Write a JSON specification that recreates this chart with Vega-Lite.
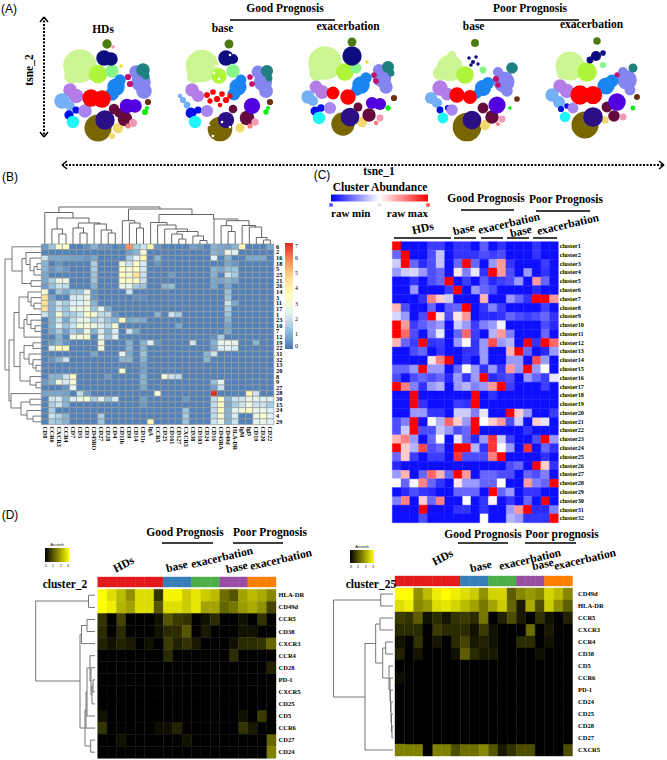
{"$schema":"https://vega.github.io/schema/vega-lite/v6.json","width":667,"height":760,"padding":0,"autosize":{"type":"none"},"background":"white","view":{"stroke":null},
"config":{"text":{"font":"Liberation Serif","fontWeight":"bold"},"axis":{"labelFont":"Liberation Serif","labelFontWeight":"bold","domain":false,"ticks":false,"grid":false,"title":null},"legend":{"labelFont":"Liberation Serif","titleFont":"Liberation Serif"}},
"datasets":{
"tsne":[
{"k":"lg","x":80,"y":66,"n":855},{"k":"lg","x":72,"y":76,"n":154},{"k":"lm","x":98,"y":74,"n":227},{"k":"mt","x":112,"y":71,"n":113},{"k":"nv","x":104,"y":58,"n":154},{"k":"nv","x":111,"y":59,"n":113},{"k":"pw","x":136,"y":72,"n":113},{"k":"pw","x":141,"y":82,"n":254},{"k":"pw","x":144,"y":91,"n":154},{"k":"tl","x":143,"y":70,"n":113},{"k":"tl","x":146,"y":76,"n":28},{"k":"cr","x":128,"y":77,"n":20},{"k":"cr","x":130,"y":84,"n":20},{"k":"az","x":120,"y":80,"n":78},{"k":"az","x":116,"y":87,"n":200},{"k":"az","x":112,"y":94,"n":113},{"k":"or","x":70,"y":90,"n":113},{"k":"or","x":76,"y":96,"n":133},{"k":"sk","x":62,"y":101,"n":154},{"k":"sk","x":70,"y":106,"n":50},{"k":"bl","x":69,"y":115,"n":50},{"k":"bl","x":76,"y":110,"n":28},{"k":"cy","x":73,"y":122,"n":95},{"k":"lv","x":85,"y":111,"n":113},{"k":"ol","x":98,"y":128,"n":530},{"k":"gd","x":118,"y":128,"n":64},{"k":"gd","x":112,"y":136,"n":20},{"k":"in","x":105,"y":120,"n":254},{"k":"mr","x":114,"y":109,"n":64},{"k":"mr","x":125,"y":119,"n":133},{"k":"mr","x":119,"y":113,"n":50},{"k":"vi","x":127,"y":106,"n":133},{"k":"vi","x":135,"y":106,"n":113},{"k":"rd","x":91,"y":98,"n":200},{"k":"rd","x":102,"y":99,"n":200},{"k":"pk","x":133,"y":123,"n":38},{"k":"sl","x":128,"y":126,"n":13},{"k":"br","x":148,"y":102,"n":20},{"k":"gr","x":145,"y":112,"n":20},{"k":"gr","x":147,"y":108,"n":8},{"k":"dg","x":107,"y":44,"n":50},{"k":"yl","x":121,"y":66,"n":6},{"k":"pk","x":113,"y":47,"n":6},
{"k":"lg","x":202,"y":66,"n":800},{"k":"lg","x":194,"y":76,"n":130},{"k":"lm","x":219,"y":76,"n":150},{"k":"mt","x":233,"y":71,"n":113},{"k":"nv","x":226,"y":58,"n":154},{"k":"nv","x":233,"y":59,"n":60},{"k":"pw","x":258,"y":72,"n":100},{"k":"pw","x":263,"y":82,"n":220},{"k":"pw","x":266,"y":91,"n":120},{"k":"tl","x":267,"y":71,"n":90},{"k":"tl","x":269,"y":78,"n":25},{"k":"cr","x":250,"y":77,"n":16},{"k":"cr","x":252,"y":84,"n":16},{"k":"az","x":241,"y":80,"n":70},{"k":"az","x":238,"y":87,"n":190},{"k":"az","x":234,"y":94,"n":100},{"k":"or","x":192,"y":90,"n":113},{"k":"or","x":198,"y":96,"n":90},{"k":"sk","x":183,"y":100,"n":20},{"k":"sk","x":187,"y":105,"n":25},{"k":"sk","x":180,"y":96,"n":10},{"k":"bl","x":191,"y":113,"n":70},{"k":"bl","x":198,"y":110,"n":28},{"k":"cy","x":195,"y":122,"n":95},{"k":"lv","x":207,"y":111,"n":90},{"k":"ol","x":220,"y":129,"n":430},{"k":"gd","x":240,"y":128,"n":50},{"k":"in","x":226,"y":120,"n":170},{"k":"mr","x":233,"y":109,"n":40},{"k":"mr","x":247,"y":118,"n":133},{"k":"vi","x":252,"y":106,"n":170},{"k":"rd","x":207,"y":95,"n":18},{"k":"rd","x":213,"y":92,"n":16},{"k":"rd","x":210,"y":101,"n":14},{"k":"rd","x":217,"y":99,"n":20},{"k":"rd","x":222,"y":94,"n":16},{"k":"rd","x":226,"y":100,"n":20},{"k":"rd","x":230,"y":96,"n":14},{"k":"rd","x":220,"y":105,"n":10},{"k":"pk","x":255,"y":122,"n":30},{"k":"sl","x":250,"y":126,"n":13},{"k":"br","x":270,"y":102,"n":20},{"k":"gr","x":266,"y":112,"n":14},{"k":"gr","x":268,"y":108,"n":8},{"k":"dg","x":229,"y":44,"n":45},{"k":"wh","x":216,"y":66,"n":3},{"k":"wh","x":219,"y":79,"n":3},{"k":"wh","x":214,"y":73,"n":3},{"k":"wh","x":230,"y":55,"n":3},{"k":"wh","x":213,"y":136,"n":3},{"k":"wh","x":222,"y":122,"n":3},{"k":"wh","x":230,"y":127,"n":3},{"k":"wh","x":209,"y":125,"n":3},
{"k":"lg","x":325,"y":63,"n":855},{"k":"lg","x":317,"y":73,"n":154},{"k":"lm","x":345,"y":72,"n":200},{"k":"mt","x":356,"y":68,"n":70},{"k":"nv","x":352,"y":56,"n":250},{"k":"pw","x":379,"y":70,"n":90},{"k":"pw","x":382,"y":78,"n":230},{"k":"pw","x":386,"y":87,"n":110},{"k":"tl","x":388,"y":67,"n":90},{"k":"tl","x":391,"y":73,"n":25},{"k":"cr","x":374,"y":75,"n":16},{"k":"cr","x":376,"y":81,"n":16},{"k":"az","x":366,"y":78,"n":78},{"k":"az","x":361,"y":85,"n":200},{"k":"az","x":357,"y":90,"n":80},{"k":"or","x":316,"y":87,"n":100},{"k":"or","x":322,"y":92,"n":120},{"k":"sk","x":308,"y":97,"n":110},{"k":"sk","x":313,"y":101,"n":60},{"k":"bl","x":315,"y":111,"n":45},{"k":"bl","x":321,"y":108,"n":30},{"k":"cy","x":319,"y":118,"n":95},{"k":"lv","x":330,"y":108,"n":90},{"k":"ol","x":343,"y":124,"n":380},{"k":"gd","x":362,"y":122,"n":64},{"k":"in","x":350,"y":117,"n":230},{"k":"mr","x":358,"y":107,"n":45},{"k":"mr","x":369,"y":115,"n":110},{"k":"vi","x":372,"y":103,"n":90},{"k":"vi","x":380,"y":104,"n":90},{"k":"rd","x":333,"y":93,"n":100},{"k":"rd","x":348,"y":97,"n":150},{"k":"pk","x":380,"y":118,"n":25},{"k":"sl","x":376,"y":123,"n":10},{"k":"br","x":394,"y":98,"n":20},{"k":"gr","x":388,"y":108,"n":14},{"k":"dg","x":352,"y":42,"n":45},{"k":"yl","x":367,"y":62,"n":6},
{"k":"lg","x":450,"y":68,"n":500},{"k":"lg","x":440,"y":73,"n":130},{"k":"lg","x":452,"y":55,"n":40},{"k":"lm","x":465,"y":75,"n":200},{"k":"mt","x":483,"y":70,"n":25},{"k":"nv","x":469,"y":58,"n":6},{"k":"nv","x":473,"y":62,"n":8},{"k":"nv","x":476,"y":57,"n":6},{"k":"nv","x":471,"y":65,"n":6},{"k":"nv","x":478,"y":64,"n":5},{"k":"pw","x":498,"y":72,"n":60},{"k":"pw","x":504,"y":82,"n":300},{"k":"pw","x":507,"y":91,"n":80},{"k":"tl","x":512,"y":68,"n":80},{"k":"cr","x":496,"y":79,"n":20},{"k":"cr","x":498,"y":85,"n":14},{"k":"az","x":488,"y":83,"n":90},{"k":"az","x":483,"y":88,"n":170},{"k":"az","x":477,"y":94,"n":50},{"k":"or","x":440,"y":88,"n":150},{"k":"or","x":447,"y":94,"n":100},{"k":"sk","x":431,"y":98,"n":90},{"k":"sk","x":437,"y":103,"n":60},{"k":"bl","x":440,"y":110,"n":25},{"k":"bl","x":448,"y":108,"n":20},{"k":"cy","x":443,"y":118,"n":70},{"k":"lv","x":452,"y":110,"n":80},{"k":"ol","x":467,"y":127,"n":600},{"k":"gd","x":485,"y":125,"n":64},{"k":"in","x":472,"y":120,"n":230},{"k":"mr","x":483,"y":108,"n":70},{"k":"mr","x":492,"y":117,"n":110},{"k":"vi","x":497,"y":105,"n":190},{"k":"rd","x":457,"y":95,"n":150},{"k":"rd","x":470,"y":97,"n":120},{"k":"pk","x":502,"y":119,"n":25},{"k":"sl","x":498,"y":124,"n":8},{"k":"br","x":517,"y":99,"n":16},{"k":"gr","x":510,"y":108,"n":6},{"k":"dg","x":475,"y":43,"n":35},
{"k":"lg","x":570,"y":66,"n":620},{"k":"lg","x":563,"y":73,"n":100},{"k":"lm","x":587,"y":72,"n":260},{"k":"mt","x":603,"y":65,"n":20},{"k":"nv","x":596,"y":56,"n":60},{"k":"nv","x":590,"y":60,"n":25},{"k":"nv","x":603,"y":53,"n":16},{"k":"pw","x":623,"y":72,"n":60},{"k":"pw","x":627,"y":80,"n":260},{"k":"pw","x":630,"y":90,"n":70},{"k":"tl","x":633,"y":68,"n":45},{"k":"cr","x":617,"y":75,"n":14},{"k":"az","x":612,"y":81,"n":100},{"k":"az","x":606,"y":86,"n":190},{"k":"or","x":560,"y":86,"n":110},{"k":"or","x":567,"y":91,"n":130},{"k":"sk","x":552,"y":95,"n":110},{"k":"sk","x":559,"y":102,"n":90},{"k":"bl","x":561,"y":109,"n":20},{"k":"bl","x":567,"y":106,"n":16},{"k":"cy","x":565,"y":117,"n":64},{"k":"lv","x":573,"y":108,"n":70},{"k":"ol","x":585,"y":125,"n":530},{"k":"gd","x":605,"y":120,"n":30},{"k":"in","x":593,"y":117,"n":260},{"k":"mr","x":607,"y":107,"n":70},{"k":"mr","x":614,"y":116,"n":80},{"k":"vi","x":617,"y":102,"n":200},{"k":"rd","x":580,"y":95,"n":250},{"k":"rd","x":593,"y":95,"n":220},{"k":"pk","x":623,"y":117,"n":25},{"k":"br","x":637,"y":97,"n":18},{"k":"gr","x":633,"y":108,"n":12},{"k":"dg","x":597,"y":41,"n":30}
],
"b":[
{"r":6,"c":"CD8","v":0.6},{"r":6,"c":"CCR6","v":1.3},{"r":6,"c":"CXCR3","v":3.2},{"r":6,"c":"CCR4","v":3.4},{"r":6,"c":"CD3","v":0.5},{"r":6,"c":"CD45RO","v":1},{"r":6,"c":"CD27","v":0.5},{"r":6,"c":"CD28","v":0.5},{"r":6,"c":"CD11b","v":0.4},{"r":6,"c":"CD9","v":5.8},{"r":6,"c":"CD14","v":1.5},{"r":6,"c":"CD11c","v":2},{"r":6,"c":"IgA","v":3.8},{"r":6,"c":"CCR5","v":0.5},{"r":6,"c":"CD38","v":0.7},{"r":6,"c":"CD103","v":0.5},{"r":6,"c":"CD16","v":1},{"r":6,"c":"CD45RA","v":0.8},{"r":6,"c":"CD49d","v":0.7},{"r":6,"c":"HLA-DR","v":1},{"r":6,"c":"IgM","v":3.8},{"r":6,"c":"CD22","v":0.8},
{"r":2,"c":"CD9","v":0.7},{"r":2,"c":"CD14","v":1},{"r":2,"c":"CD11c","v":3},{"r":2,"c":"CD16","v":1},{"r":2,"c":"CD45RA","v":0.8},{"r":2,"c":"CD49d","v":2.5},{"r":2,"c":"HLA-DR","v":2.5},
{"r":16,"c":"CD8","v":2},{"r":16,"c":"CCR6","v":0.8},{"r":16,"c":"CXCR3","v":0.8},{"r":16,"c":"CCR4","v":0.8},{"r":16,"c":"CD7","v":0.7},{"r":16,"c":"CD5","v":0.7},{"r":16,"c":"CD3","v":0.5},{"r":16,"c":"CD45RO","v":0.8},{"r":16,"c":"CD9","v":1.5},{"r":16,"c":"CD14","v":2.5},{"r":16,"c":"CD11c","v":3.8},{"r":16,"c":"CCR5","v":1},{"r":16,"c":"CD16","v":2.3},{"r":16,"c":"CD49d","v":1},{"r":16,"c":"IgD","v":0.8},{"r":16,"c":"CD19","v":0.8},{"r":16,"c":"CD20","v":0.8},
{"r":18,"c":"CD8","v":1},{"r":18,"c":"CXCR3","v":0.5},{"r":18,"c":"CD45RO","v":1.5},{"r":18,"c":"CD11b","v":3},{"r":18,"c":"CD9","v":2},{"r":18,"c":"CD14","v":3.3},{"r":18,"c":"CD11c","v":2.2},{"r":18,"c":"CCR5","v":0.5},{"r":18,"c":"CD49d","v":0.8},{"r":18,"c":"HLA-DR","v":0.5},
{"r":5,"c":"CD8","v":1},{"r":5,"c":"CCR6","v":0.5},{"r":5,"c":"CXCR3","v":0.8},{"r":5,"c":"CCR4","v":0.5},{"r":5,"c":"CD45RO","v":1.5},{"r":5,"c":"CD11b","v":3.3},{"r":5,"c":"CD9","v":3},{"r":5,"c":"CD14","v":3.5},{"r":5,"c":"CD11c","v":2.2},{"r":5,"c":"CD16","v":1},{"r":5,"c":"CD45RA","v":0.8},{"r":5,"c":"CD49d","v":1.2},{"r":5,"c":"HLA-DR","v":1.3},
{"r":25,"c":"CD8","v":0.8},{"r":25,"c":"CD45RO","v":1.3},{"r":25,"c":"CD11b","v":3.5},{"r":25,"c":"CD9","v":3},{"r":25,"c":"CD14","v":4.5},{"r":25,"c":"CD11c","v":2},{"r":25,"c":"CD161","v":0.6},{"r":25,"c":"CD16","v":1},{"r":25,"c":"CD49d","v":2},{"r":25,"c":"HLA-DR","v":1.5},
{"r":21,"c":"CD8","v":0.8},{"r":21,"c":"CCR6","v":1.5},{"r":21,"c":"CXCR3","v":2.7},{"r":21,"c":"CCR4","v":2.7},{"r":21,"c":"CD45RO","v":1.3},{"r":21,"c":"CD11b","v":3.3},{"r":21,"c":"CD9","v":3.3},{"r":21,"c":"CD14","v":3.5},{"r":21,"c":"CD11c","v":2},{"r":21,"c":"CD16","v":0.8},{"r":21,"c":"CD45RA","v":0.7},{"r":21,"c":"CD49d","v":1},{"r":21,"c":"HLA-DR","v":0.8},
{"r":26,"c":"CD8","v":0.6},{"r":26,"c":"CCR6","v":1.3},{"r":26,"c":"CXCR3","v":2},{"r":26,"c":"CCR4","v":1.8},{"r":26,"c":"CD45RO","v":1},{"r":26,"c":"CD11b","v":2.7},{"r":26,"c":"CD9","v":2.5},{"r":26,"c":"CD14","v":1.5},{"r":26,"c":"CD11c","v":1.3},{"r":26,"c":"CD25","v":1},{"r":26,"c":"CD161","v":1.2},{"r":26,"c":"CD16","v":0.8},{"r":26,"c":"CD49d","v":0.8},
{"r":14,"c":"CD8","v":3.2},{"r":14,"c":"CXCR3","v":1.3},{"r":14,"c":"CCR4","v":0.8},{"r":14,"c":"CD7","v":1.3},{"r":14,"c":"CD5","v":1.3},{"r":14,"c":"CD3","v":2.5},{"r":14,"c":"CD45RO","v":0.5},{"r":14,"c":"CD9","v":2},{"r":14,"c":"CD49d","v":1.2},
{"r":3,"c":"CD8","v":4.5},{"r":3,"c":"CCR6","v":0.7},{"r":3,"c":"CD7","v":2.2},{"r":3,"c":"CD5","v":2.2},{"r":3,"c":"CD3","v":2.7},{"r":3,"c":"CD45RO","v":0.5},{"r":3,"c":"CD14","v":0.4},{"r":3,"c":"CD11c","v":0.4},{"r":3,"c":"CD49d","v":1.3},
{"r":11,"c":"CD8","v":4.5},{"r":11,"c":"CCR6","v":1},{"r":11,"c":"CXCR3","v":2},{"r":11,"c":"CCR4","v":1.5},{"r":11,"c":"CD7","v":2.3},{"r":11,"c":"CD5","v":2.3},{"r":11,"c":"CD3","v":2.8},{"r":11,"c":"CD45RO","v":1},{"r":11,"c":"CD49d","v":2},{"r":11,"c":"HLA-DR","v":0.8},
{"r":17,"c":"CD8","v":4.5},{"r":17,"c":"CCR6","v":1},{"r":17,"c":"CXCR3","v":2},{"r":17,"c":"CCR4","v":1.3},{"r":17,"c":"CD7","v":2.7},{"r":17,"c":"CD5","v":2.7},{"r":17,"c":"CD3","v":3},{"r":17,"c":"CD45RO","v":1.3},{"r":17,"c":"CD27","v":2.5},{"r":17,"c":"CD28","v":0.8},{"r":17,"c":"CD49d","v":1.5},
{"r":1,"c":"CD8","v":2},{"r":1,"c":"CCR6","v":1},{"r":1,"c":"CXCR3","v":3},{"r":1,"c":"CCR4","v":1.5},{"r":1,"c":"CD7","v":1.5},{"r":1,"c":"CD5","v":2},{"r":1,"c":"CD3","v":3.3},{"r":1,"c":"CD45RO","v":3.2},{"r":1,"c":"CD27","v":1.8},{"r":1,"c":"CD28","v":1.8},{"r":1,"c":"CD4","v":0.5},{"r":1,"c":"CCR5","v":1},{"r":1,"c":"CD161","v":2},{"r":1,"c":"CD127","v":1.5},{"r":1,"c":"CD49d","v":1.3},
{"r":23,"c":"CCR6","v":1},{"r":23,"c":"CXCR3","v":2},{"r":23,"c":"CCR4","v":0.8},{"r":23,"c":"CD7","v":1.8},{"r":23,"c":"CD5","v":2.5},{"r":23,"c":"CD3","v":2.6},{"r":23,"c":"CD45RO","v":1.5},{"r":23,"c":"CD27","v":2},{"r":23,"c":"CD28","v":1.3},{"r":23,"c":"CD4","v":1},{"r":23,"c":"CD11b","v":3.5},{"r":23,"c":"CD9","v":0.8},{"r":23,"c":"CD14","v":1},{"r":23,"c":"CD11c","v":0.8},{"r":23,"c":"CD49d","v":1},
{"r":10,"c":"CCR6","v":1},{"r":10,"c":"CXCR3","v":2.3},{"r":10,"c":"CCR4","v":1.3},{"r":10,"c":"CD7","v":2},{"r":10,"c":"CD5","v":3},{"r":10,"c":"CD3","v":3},{"r":10,"c":"CD45RO","v":2.7},{"r":10,"c":"CD27","v":2.2},{"r":10,"c":"CD28","v":1.7},{"r":10,"c":"CD4","v":3},{"r":10,"c":"CD127","v":0.8},{"r":10,"c":"CD49d","v":0.7},
{"r":7,"c":"CCR6","v":0.8},{"r":7,"c":"CXCR3","v":1.5},{"r":7,"c":"CCR4","v":0.7},{"r":7,"c":"CD7","v":1.5},{"r":7,"c":"CD5","v":1},{"r":7,"c":"CD3","v":2.8},{"r":7,"c":"CD45RO","v":1},{"r":7,"c":"CD27","v":2.2},{"r":7,"c":"CD28","v":1},{"r":7,"c":"CD4","v":2.2},{"r":7,"c":"CD9","v":2},{"r":7,"c":"CD14","v":0.8},{"r":7,"c":"CD49d","v":0.8},
{"r":12,"c":"CXCR3","v":1},{"r":12,"c":"CD7","v":2.8},{"r":12,"c":"CD5","v":3},{"r":12,"c":"CD3","v":3},{"r":12,"c":"CD27","v":2.5},{"r":12,"c":"CD28","v":1.2},{"r":12,"c":"CD4","v":2.3},{"r":12,"c":"CD16","v":0.4},{"r":12,"c":"CD45RA","v":1.5},
{"r":19,"c":"CCR6","v":0.6},{"r":19,"c":"CXCR3","v":1},{"r":19,"c":"CCR4","v":0.5},{"r":19,"c":"CD27","v":3},{"r":19,"c":"CD9","v":1},{"r":19,"c":"CD11c","v":1},{"r":19,"c":"IgA","v":2.3},{"r":19,"c":"CCR5","v":0.5},{"r":19,"c":"CD38","v":2},{"r":19,"c":"CD16","v":1},{"r":19,"c":"CD45RA","v":2.5},{"r":19,"c":"CD49d","v":2.7},{"r":19,"c":"HLA-DR","v":2.6},{"r":19,"c":"CD19","v":1},
{"r":22,"c":"CCR6","v":2.3},{"r":22,"c":"CXCR3","v":3.5},{"r":22,"c":"CCR4","v":3.5},{"r":22,"c":"CD27","v":3},{"r":22,"c":"CD9","v":1},{"r":22,"c":"CD11c","v":1},{"r":22,"c":"CD16","v":0.8},{"r":22,"c":"CD45RA","v":2.2},{"r":22,"c":"CD49d","v":2.3},{"r":22,"c":"HLA-DR","v":2.2},
{"r":31,"c":"CD45RO","v":0.8},{"r":31,"c":"CD11b","v":2.5},{"r":31,"c":"CD9","v":0.8},{"r":31,"c":"CD11c","v":1.3},{"r":31,"c":"CD24","v":1},{"r":31,"c":"CD16","v":2},
{"r":32,"c":"CCR6","v":0.5},{"r":32,"c":"CXCR3","v":1},{"r":32,"c":"CCR4","v":2},{"r":32,"c":"CD11b","v":1},{"r":32,"c":"CD9","v":1},{"r":32,"c":"CD11c","v":1},{"r":32,"c":"CD24","v":1},
{"r":13,"c":"CD11c","v":0.7},
{"r":20,"c":"CD11b","v":3},{"r":20,"c":"CD11c","v":0.7},
{"r":8,"c":"CCR6","v":1},{"r":8,"c":"CXCR3","v":1},{"r":8,"c":"CCR4","v":2},{"r":8,"c":"CD7","v":3.3},{"r":8,"c":"CD28","v":0.6},{"r":8,"c":"CD11c","v":1},{"r":8,"c":"CD25","v":3},{"r":8,"c":"CD161","v":2},{"r":8,"c":"CD127","v":1.8},
{"r":9,"c":"CD8","v":0.6},{"r":9,"c":"CCR6","v":1},{"r":9,"c":"CXCR3","v":2.8},{"r":9,"c":"CCR4","v":2.2},{"r":9,"c":"CD7","v":3},{"r":9,"c":"CD11c","v":1},{"r":9,"c":"CD16","v":1.2},{"r":9,"c":"CD45RA","v":2.5},
{"r":27,"c":"CCR4","v":0.5},{"r":27,"c":"CD7","v":2.5},{"r":27,"c":"CD11c","v":0.8},{"r":27,"c":"CD16","v":0.7},{"r":27,"c":"CD45RA","v":2},
{"r":28,"c":"CD8","v":0.7},{"r":28,"c":"CCR6","v":0.8},{"r":28,"c":"CXCR3","v":0.8},{"r":28,"c":"CCR4","v":0.7},{"r":28,"c":"CD5","v":1.8},{"r":28,"c":"CD3","v":0.6},{"r":28,"c":"CCR5","v":3},{"r":28,"c":"CD16","v":7},{"r":28,"c":"IgD","v":3.8},{"r":28,"c":"CD19","v":2},
{"r":30,"c":"CCR6","v":2},{"r":30,"c":"CXCR3","v":2.2},{"r":30,"c":"CCR4","v":1},{"r":30,"c":"CD7","v":2.2},{"r":30,"c":"CD5","v":2.7},{"r":30,"c":"CD3","v":3},{"r":30,"c":"CD45RO","v":1.5},{"r":30,"c":"CD27","v":2.5},{"r":30,"c":"CD28","v":1.3},{"r":30,"c":"CD4","v":2.2},{"r":30,"c":"CD11c","v":0.7},{"r":30,"c":"CXCR5","v":0.6},{"r":30,"c":"CD16","v":1.8},{"r":30,"c":"CD45RA","v":3.6},{"r":30,"c":"CD49d","v":1},{"r":30,"c":"HLA-DR","v":2},{"r":30,"c":"IgM","v":2},{"r":30,"c":"IgD","v":2.8},{"r":30,"c":"CD19","v":2.5},{"r":30,"c":"CD20","v":2.3},{"r":30,"c":"CD22","v":2.3},
{"r":15,"c":"CCR6","v":1.5},{"r":15,"c":"CXCR3","v":2},{"r":15,"c":"CCR4","v":1},{"r":15,"c":"CD11c","v":0.6},{"r":15,"c":"CD16","v":1.8},{"r":15,"c":"CD45RA","v":3.6},{"r":15,"c":"CD49d","v":0.8},{"r":15,"c":"HLA-DR","v":1.5},{"r":15,"c":"IgM","v":2},{"r":15,"c":"IgD","v":2.8},{"r":15,"c":"CD19","v":2},{"r":15,"c":"CD20","v":2},{"r":15,"c":"CD22","v":1.5},
{"r":24,"c":"CCR6","v":1.5},{"r":24,"c":"CXCR5","v":1.3},{"r":24,"c":"CD16","v":1.8},{"r":24,"c":"CD45RA","v":3.6},{"r":24,"c":"CD49d","v":1},{"r":24,"c":"HLA-DR","v":2.4},{"r":24,"c":"IgM","v":3},{"r":24,"c":"IgD","v":3.4},{"r":24,"c":"CD19","v":2.6},{"r":24,"c":"CD20","v":2.7},{"r":24,"c":"CD22","v":2.3},
{"r":4,"c":"CCR6","v":2},{"r":4,"c":"CXCR3","v":1.6},{"r":4,"c":"CCR4","v":1},{"r":4,"c":"CD27","v":1.5},{"r":4,"c":"CXCR5","v":1.5},{"r":4,"c":"CD16","v":1.8},{"r":4,"c":"CD45RA","v":3.2},{"r":4,"c":"CD49d","v":1},{"r":4,"c":"HLA-DR","v":2.2},{"r":4,"c":"CD19","v":2.7},{"r":4,"c":"CD20","v":3.3},{"r":4,"c":"CD22","v":2.3},
{"r":29,"c":"CCR6","v":1.5},{"r":29,"c":"CXCR3","v":1.3},{"r":29,"c":"CCR4","v":1},{"r":29,"c":"CD27","v":1.3},{"r":29,"c":"IgA","v":3.8},{"r":29,"c":"CXCR5","v":1.3},{"r":29,"c":"CD16","v":2},{"r":29,"c":"CD45RA","v":2.8},{"r":29,"c":"CD49d","v":1},{"r":29,"c":"HLA-DR","v":2},{"r":29,"c":"CD19","v":2.5},{"r":29,"c":"CD20","v":2.7},{"r":29,"c":"CD22","v":2.3}
],
"c":[
{"r":1,"c":1,"v":1},{"r":1,"c":5,"v":0.12},{"r":1,"c":6,"v":0.12},{"r":1,"c":8,"v":0.1},{"r":1,"c":9,"v":0.1},{"r":1,"c":11,"v":0.18},{"r":1,"c":13,"v":0.1},{"r":1,"c":17,"v":0.1},
{"r":2,"c":1,"v":0.2},{"r":2,"c":2,"v":1},{"r":2,"c":5,"v":0.15},{"r":2,"c":6,"v":0.38},{"r":2,"c":8,"v":0.1},{"r":2,"c":9,"v":0.1},{"r":2,"c":10,"v":0.1},{"r":2,"c":11,"v":0.15},{"r":2,"c":12,"v":0.12},{"r":2,"c":13,"v":0.15},{"r":2,"c":17,"v":0.1},
{"r":3,"c":1,"v":0.4},{"r":3,"c":2,"v":1},{"r":3,"c":3,"v":0.2},{"r":3,"c":4,"v":0.08},{"r":3,"c":5,"v":0.15},{"r":3,"c":6,"v":0.38},{"r":3,"c":8,"v":0.2},{"r":3,"c":9,"v":1},{"r":3,"c":10,"v":0.2},{"r":3,"c":12,"v":0.3},{"r":3,"c":13,"v":0.7},{"r":3,"c":14,"v":0.1},{"r":3,"c":18,"v":0.12},
{"r":4,"c":1,"v":0.3},{"r":4,"c":2,"v":0.4},{"r":4,"c":3,"v":0.42},{"r":4,"c":4,"v":0.3},{"r":4,"c":5,"v":0.15},{"r":4,"c":6,"v":0.2},{"r":4,"c":8,"v":0.55},{"r":4,"c":9,"v":0.25},{"r":4,"c":10,"v":0.45},{"r":4,"c":11,"v":0.1},{"r":4,"c":12,"v":1},{"r":4,"c":13,"v":0.7},{"r":4,"c":14,"v":0.15},{"r":4,"c":16,"v":0.3},{"r":4,"c":18,"v":0.1},
{"r":5,"c":3,"v":0.1},{"r":5,"c":5,"v":0.15},{"r":5,"c":6,"v":0.2},{"r":5,"c":7,"v":1},{"r":5,"c":9,"v":0.12},{"r":5,"c":11,"v":0.18},{"r":5,"c":12,"v":0.08},{"r":5,"c":13,"v":0.12},{"r":5,"c":14,"v":0.15},{"r":5,"c":15,"v":0.3},{"r":5,"c":17,"v":0.7},{"r":5,"c":18,"v":0.2},
{"r":6,"c":3,"v":0.3},{"r":6,"c":7,"v":0.12},{"r":6,"c":8,"v":1},{"r":6,"c":10,"v":0.3},{"r":6,"c":11,"v":0.2},{"r":6,"c":12,"v":0.15},{"r":6,"c":17,"v":0.08},
{"r":7,"c":4,"v":0.1},{"r":7,"c":5,"v":0.75},{"r":7,"c":6,"v":0.6},{"r":7,"c":7,"v":0.4},{"r":7,"c":11,"v":0.65},{"r":7,"c":14,"v":0.3},{"r":7,"c":15,"v":0.2},{"r":7,"c":16,"v":0.1},{"r":7,"c":17,"v":1},{"r":7,"c":18,"v":1},{"r":7,"c":19,"v":0.7},
{"r":8,"c":1,"v":0.65},{"r":8,"c":2,"v":0.15},{"r":8,"c":5,"v":0.2},{"r":8,"c":7,"v":0.18},{"r":8,"c":8,"v":0.2},{"r":8,"c":9,"v":1},{"r":8,"c":11,"v":0.1},{"r":8,"c":12,"v":0.25},{"r":8,"c":13,"v":0.12},{"r":8,"c":18,"v":0.12},
{"r":9,"c":1,"v":0.42},{"r":9,"c":2,"v":0.3},{"r":9,"c":4,"v":0.15},{"r":9,"c":5,"v":1},{"r":9,"c":6,"v":0.55},{"r":9,"c":7,"v":0.15},{"r":9,"c":8,"v":0.55},{"r":9,"c":9,"v":0.7},{"r":9,"c":11,"v":0.08},{"r":9,"c":12,"v":0.08},{"r":9,"c":13,"v":0.1},{"r":9,"c":14,"v":0.2},{"r":9,"c":15,"v":0.15},{"r":9,"c":16,"v":0.12},{"r":9,"c":17,"v":0.15},{"r":9,"c":18,"v":0.2},{"r":9,"c":19,"v":0.1},
{"r":10,"c":1,"v":1},{"r":10,"c":2,"v":0.7},{"r":10,"c":3,"v":0.12},{"r":10,"c":4,"v":0.18},{"r":10,"c":5,"v":0.25},{"r":10,"c":6,"v":0.3},{"r":10,"c":8,"v":0.4},{"r":10,"c":9,"v":0.3},{"r":10,"c":10,"v":0.12},{"r":10,"c":11,"v":0.25},{"r":10,"c":12,"v":0.3},{"r":10,"c":13,"v":0.47},{"r":10,"c":18,"v":0.15},{"r":10,"c":19,"v":0.08},
{"r":11,"c":1,"v":1},{"r":11,"c":2,"v":0.8},{"r":11,"c":3,"v":0.15},{"r":11,"c":5,"v":0.25},{"r":11,"c":6,"v":0.45},{"r":11,"c":8,"v":0.2},{"r":11,"c":9,"v":0.8},{"r":11,"c":10,"v":0.12},{"r":11,"c":12,"v":0.35},{"r":11,"c":13,"v":0.7},{"r":11,"c":14,"v":0.25},{"r":11,"c":18,"v":0.2},
{"r":12,"c":1,"v":0.65},{"r":12,"c":2,"v":0.2},{"r":12,"c":3,"v":0.12},{"r":12,"c":4,"v":1},{"r":12,"c":5,"v":0.1},{"r":12,"c":6,"v":0.12},{"r":12,"c":8,"v":0.3},{"r":12,"c":9,"v":0.5},{"r":12,"c":10,"v":0.1},{"r":12,"c":11,"v":0.3},{"r":12,"c":12,"v":0.85},{"r":12,"c":13,"v":0.3},{"r":12,"c":14,"v":0.35},{"r":12,"c":16,"v":1},{"r":12,"c":17,"v":0.1},{"r":12,"c":18,"v":1},{"r":12,"c":19,"v":0.8},
{"r":13,"c":3,"v":0.15},{"r":13,"c":4,"v":0.2},{"r":13,"c":6,"v":0.1},{"r":13,"c":9,"v":0.1},{"r":13,"c":10,"v":0.1},{"r":13,"c":11,"v":0.3},{"r":13,"c":14,"v":0.65},{"r":13,"c":15,"v":1},{"r":13,"c":16,"v":0.2},{"r":13,"c":18,"v":0.08},{"r":13,"c":19,"v":0.3},
{"r":14,"c":5,"v":0.55},{"r":14,"c":6,"v":0.75},{"r":14,"c":7,"v":1},{"r":14,"c":9,"v":0.1},{"r":14,"c":11,"v":0.3},{"r":14,"c":14,"v":0.3},{"r":14,"c":15,"v":0.3},{"r":14,"c":17,"v":0.85},{"r":14,"c":18,"v":0.3},
{"r":15,"c":1,"v":0.2},{"r":15,"c":2,"v":0.2},{"r":15,"c":3,"v":0.3},{"r":15,"c":4,"v":1},{"r":15,"c":5,"v":0.3},{"r":15,"c":6,"v":0.3},{"r":15,"c":8,"v":0.2},{"r":15,"c":9,"v":0.5},{"r":15,"c":10,"v":0.3},{"r":15,"c":11,"v":0.1},{"r":15,"c":12,"v":0.3},{"r":15,"c":13,"v":0.1},{"r":15,"c":14,"v":0.7},{"r":15,"c":15,"v":0.3},{"r":15,"c":16,"v":1},{"r":15,"c":17,"v":0.3},{"r":15,"c":18,"v":0.5},
{"r":16,"c":1,"v":0.15},{"r":16,"c":3,"v":0.15},{"r":16,"c":4,"v":0.2},{"r":16,"c":5,"v":0.15},{"r":16,"c":6,"v":0.2},{"r":16,"c":7,"v":0.08},{"r":16,"c":8,"v":0.3},{"r":16,"c":9,"v":0.1},{"r":16,"c":10,"v":0.3},{"r":16,"c":11,"v":1},{"r":16,"c":12,"v":0.08},{"r":16,"c":13,"v":0.12},{"r":16,"c":14,"v":0.15},{"r":16,"c":16,"v":0.3},{"r":16,"c":17,"v":0.2},{"r":16,"c":18,"v":0.12},{"r":16,"c":19,"v":0.45},
{"r":17,"c":1,"v":1},{"r":17,"c":2,"v":0.75},{"r":17,"c":3,"v":0.25},{"r":17,"c":4,"v":0.1},{"r":17,"c":5,"v":0.3},{"r":17,"c":6,"v":0.35},{"r":17,"c":8,"v":0.3},{"r":17,"c":9,"v":0.35},{"r":17,"c":10,"v":0.25},{"r":17,"c":11,"v":0.3},{"r":17,"c":12,"v":0.7},{"r":17,"c":13,"v":1},{"r":17,"c":14,"v":0.12},{"r":17,"c":18,"v":0.12},
{"r":18,"c":3,"v":1},{"r":18,"c":10,"v":1},{"r":18,"c":12,"v":0.1},
{"r":19,"c":3,"v":1},{"r":19,"c":4,"v":0.1},{"r":19,"c":8,"v":0.12},{"r":19,"c":9,"v":0.1},{"r":19,"c":10,"v":1},
{"r":20,"c":3,"v":0.3},{"r":20,"c":4,"v":0.3},{"r":20,"c":5,"v":0.1},{"r":20,"c":6,"v":0.1},{"r":20,"c":8,"v":0.4},{"r":20,"c":9,"v":0.4},{"r":20,"c":10,"v":0.25},{"r":20,"c":11,"v":0.45},{"r":20,"c":14,"v":1},{"r":20,"c":15,"v":0.6},{"r":20,"c":16,"v":0.3},{"r":20,"c":19,"v":0.12},
{"r":21,"c":1,"v":0.15},{"r":21,"c":2,"v":0.25},{"r":21,"c":3,"v":1},{"r":21,"c":5,"v":0.5},{"r":21,"c":6,"v":0.35},{"r":21,"c":7,"v":0.8},{"r":21,"c":8,"v":0.6},{"r":21,"c":9,"v":0.3},{"r":21,"c":10,"v":1},{"r":21,"c":11,"v":0.5},{"r":21,"c":12,"v":0.6},{"r":21,"c":13,"v":0.7},{"r":21,"c":14,"v":0.15},{"r":21,"c":15,"v":0.4},{"r":21,"c":17,"v":0.6},{"r":21,"c":18,"v":0.45},
{"r":22,"c":1,"v":0.15},{"r":22,"c":2,"v":0.4},{"r":22,"c":3,"v":1},{"r":22,"c":4,"v":0.15},{"r":22,"c":5,"v":0.15},{"r":22,"c":6,"v":0.38},{"r":22,"c":7,"v":0.3},{"r":22,"c":8,"v":0.15},{"r":22,"c":9,"v":0.2},{"r":22,"c":10,"v":1},{"r":22,"c":16,"v":0.1},
{"r":23,"c":1,"v":0.65},{"r":23,"c":2,"v":0.75},{"r":23,"c":3,"v":0.3},{"r":23,"c":5,"v":0.2},{"r":23,"c":6,"v":0.5},{"r":23,"c":8,"v":0.45},{"r":23,"c":9,"v":0.2},{"r":23,"c":10,"v":0.08},{"r":23,"c":11,"v":0.3},{"r":23,"c":12,"v":0.9},{"r":23,"c":13,"v":0.4},{"r":23,"c":14,"v":0.12},{"r":23,"c":17,"v":0.15},{"r":23,"c":18,"v":1},{"r":23,"c":19,"v":0.3},
{"r":24,"c":1,"v":1},{"r":24,"c":2,"v":0.6},{"r":24,"c":3,"v":0.35},{"r":24,"c":4,"v":0.85},{"r":24,"c":5,"v":0.15},{"r":24,"c":6,"v":0.2},{"r":24,"c":8,"v":1},{"r":24,"c":9,"v":1},{"r":24,"c":10,"v":0.35},{"r":24,"c":11,"v":0.1},{"r":24,"c":12,"v":0.9},{"r":24,"c":13,"v":0.5},{"r":24,"c":14,"v":0.3},{"r":24,"c":16,"v":0.9},{"r":24,"c":18,"v":0.2},{"r":24,"c":19,"v":0.1},
{"r":25,"c":1,"v":0.2},{"r":25,"c":2,"v":0.6},{"r":25,"c":3,"v":0.12},{"r":25,"c":5,"v":0.12},{"r":25,"c":6,"v":0.12},{"r":25,"c":8,"v":0.9},{"r":25,"c":9,"v":0.15},{"r":25,"c":10,"v":0.15},{"r":25,"c":11,"v":0.15},{"r":25,"c":12,"v":0.75},{"r":25,"c":13,"v":1},{"r":25,"c":18,"v":0.1},
{"r":26,"c":1,"v":0.08},{"r":26,"c":14,"v":0.15},{"r":26,"c":15,"v":0.2},{"r":26,"c":17,"v":1},{"r":26,"c":18,"v":0.6},{"r":26,"c":19,"v":0.1},
{"r":27,"c":1,"v":0.3},{"r":27,"c":2,"v":0.65},{"r":27,"c":4,"v":0.2},{"r":27,"c":5,"v":0.8},{"r":27,"c":6,"v":0.65},{"r":27,"c":7,"v":0.2},{"r":27,"c":8,"v":1},{"r":27,"c":9,"v":0.7},{"r":27,"c":11,"v":0.2},{"r":27,"c":12,"v":0.2},{"r":27,"c":13,"v":0.15},{"r":27,"c":14,"v":0.15},{"r":27,"c":16,"v":0.2},{"r":27,"c":17,"v":0.15},{"r":27,"c":18,"v":0.25},
{"r":28,"c":1,"v":0.5},{"r":28,"c":2,"v":0.2},{"r":28,"c":3,"v":0.48},{"r":28,"c":4,"v":0.75},{"r":28,"c":5,"v":0.2},{"r":28,"c":6,"v":0.1},{"r":28,"c":8,"v":0.55},{"r":28,"c":9,"v":0.3},{"r":28,"c":10,"v":0.3},{"r":28,"c":11,"v":0.2},{"r":28,"c":12,"v":0.2},{"r":28,"c":13,"v":0.5},{"r":28,"c":16,"v":0.7},{"r":28,"c":17,"v":0.25},{"r":28,"c":18,"v":0.2},{"r":28,"c":19,"v":1},
{"r":29,"c":2,"v":0.08},{"r":29,"c":3,"v":0.15},{"r":29,"c":4,"v":0.1},{"r":29,"c":5,"v":0.08},{"r":29,"c":8,"v":0.2},{"r":29,"c":9,"v":0.2},{"r":29,"c":10,"v":0.2},{"r":29,"c":12,"v":1},{"r":29,"c":13,"v":0.2},{"r":29,"c":14,"v":0.3},{"r":29,"c":16,"v":0.1},{"r":29,"c":17,"v":0.1},
{"r":30,"c":1,"v":0.25},{"r":30,"c":2,"v":0.75},{"r":30,"c":4,"v":0.6},{"r":30,"c":5,"v":0.2},{"r":30,"c":6,"v":0.75},{"r":30,"c":9,"v":0.5},{"r":30,"c":11,"v":0.1},{"r":30,"c":12,"v":0.52},{"r":30,"c":14,"v":0.1},{"r":30,"c":16,"v":0.2},{"r":30,"c":18,"v":1},
{"r":31,"c":4,"v":1},{"r":31,"c":8,"v":0.1},{"r":31,"c":9,"v":0.1},{"r":31,"c":11,"v":0.1},{"r":31,"c":14,"v":0.3},{"r":31,"c":15,"v":0.7},{"r":31,"c":16,"v":1},{"r":31,"c":17,"v":0.08},{"r":31,"c":18,"v":0.08},{"r":31,"c":19,"v":0.25},
{"r":32,"c":4,"v":0.15},{"r":32,"c":11,"v":0.5},{"r":32,"c":14,"v":0.35},{"r":32,"c":15,"v":0.3},{"r":32,"c":16,"v":0.1},{"r":32,"c":17,"v":0.1},{"r":32,"c":18,"v":0.1},{"r":32,"c":19,"v":1}
],
"d1":[
{"r":"HLA-DR","c":1,"v":3},{"r":"HLA-DR","c":2,"v":2.6},{"r":"HLA-DR","c":3,"v":2.2},{"r":"HLA-DR","c":4,"v":1.7},{"r":"HLA-DR","c":5,"v":2.6},{"r":"HLA-DR","c":6,"v":2.6},{"r":"HLA-DR","c":7,"v":0.6},{"r":"HLA-DR","c":8,"v":2.9},{"r":"HLA-DR","c":9,"v":2.9},{"r":"HLA-DR","c":10,"v":2.4},{"r":"HLA-DR","c":11,"v":2.7},{"r":"HLA-DR","c":12,"v":2.4},{"r":"HLA-DR","c":13,"v":2.2},{"r":"HLA-DR","c":14,"v":1.3},{"r":"HLA-DR","c":15,"v":1},{"r":"HLA-DR","c":16,"v":1.9},{"r":"HLA-DR","c":17,"v":2.2},{"r":"HLA-DR","c":18,"v":2},{"r":"HLA-DR","c":19,"v":1.6},
{"r":"CD49d","c":1,"v":3},{"r":"CD49d","c":2,"v":2.8},{"r":"CD49d","c":3,"v":2.1},{"r":"CD49d","c":4,"v":1.9},{"r":"CD49d","c":5,"v":2.6},{"r":"CD49d","c":6,"v":2.6},{"r":"CD49d","c":7,"v":1},{"r":"CD49d","c":8,"v":2.6},{"r":"CD49d","c":9,"v":2.6},{"r":"CD49d","c":10,"v":2.4},{"r":"CD49d","c":11,"v":2.7},{"r":"CD49d","c":12,"v":1.9},{"r":"CD49d","c":13,"v":1.9},{"r":"CD49d","c":14,"v":1.2},{"r":"CD49d","c":15,"v":1.4},{"r":"CD49d","c":16,"v":1.8},{"r":"CD49d","c":17,"v":2},{"r":"CD49d","c":18,"v":1.7},{"r":"CD49d","c":19,"v":0.8},
{"r":"CCR5","c":1,"v":0.6},{"r":"CCR5","c":3,"v":0.8},{"r":"CCR5","c":7,"v":0.2},{"r":"CCR5","c":8,"v":1},{"r":"CCR5","c":9,"v":0.7},{"r":"CCR5","c":10,"v":0.6},{"r":"CCR5","c":12,"v":0.2},{"r":"CCR5","c":13,"v":0.5},{"r":"CCR5","c":16,"v":0.2},{"r":"CCR5","c":18,"v":0.6},
{"r":"CD38","c":1,"v":0.5},{"r":"CD38","c":3,"v":0.5},{"r":"CD38","c":7,"v":0.2},{"r":"CD38","c":8,"v":0.5},{"r":"CD38","c":9,"v":0.5},{"r":"CD38","c":10,"v":1},{"r":"CD38","c":12,"v":0.3},{"r":"CD38","c":16,"v":0.2},{"r":"CD38","c":17,"v":0.2},
{"r":"CXCR3","c":1,"v":0.4},{"r":"CXCR3","c":2,"v":0.2},{"r":"CXCR3","c":3,"v":0.4},{"r":"CXCR3","c":4,"v":0.3},{"r":"CXCR3","c":6,"v":0.2},{"r":"CXCR3","c":8,"v":0.7},{"r":"CXCR3","c":9,"v":0.4},{"r":"CXCR3","c":10,"v":0.6},{"r":"CXCR3","c":11,"v":0.3},{"r":"CXCR3","c":15,"v":0.2},{"r":"CXCR3","c":16,"v":0.5},{"r":"CXCR3","c":17,"v":0.5},{"r":"CXCR3","c":18,"v":0.6},{"r":"CXCR3","c":19,"v":1.2},
{"r":"CCR4","c":8,"v":0.5},{"r":"CCR4","c":15,"v":0.5},{"r":"CD28","c":19,"v":0.4},{"r":"PD-1","c":1,"v":0},{"r":"CXCR5","c":1,"v":0},{"r":"CD25","c":1,"v":0},
{"r":"CD5","c":1,"v":0.2},{"r":"CD5","c":16,"v":0.2},{"r":"CD5","c":18,"v":0.7},
{"r":"CCR6","c":1,"v":0.6},{"r":"CCR6","c":7,"v":0.15},{"r":"CCR6","c":8,"v":0.15},{"r":"CCR6","c":9,"v":0.4},{"r":"CCR6","c":16,"v":0.6},{"r":"CCR6","c":17,"v":0.3},
{"r":"CD27","c":3,"v":0.2},{"r":"CD27","c":10,"v":0.2},{"r":"CD27","c":19,"v":1.2},{"r":"CD24","c":19,"v":1.5}
],
"d2":[
{"r":"CD49d","c":1,"v":3},{"r":"CD49d","c":2,"v":3},{"r":"CD49d","c":3,"v":1.7},{"r":"CD49d","c":4,"v":2.2},{"r":"CD49d","c":5,"v":2.8},{"r":"CD49d","c":6,"v":3},{"r":"CD49d","c":7,"v":2.8},{"r":"CD49d","c":8,"v":2.6},{"r":"CD49d","c":9,"v":2.4},{"r":"CD49d","c":10,"v":1.7},{"r":"CD49d","c":11,"v":2.5},{"r":"CD49d","c":12,"v":2.5},{"r":"CD49d","c":13,"v":1.1},{"r":"CD49d","c":14,"v":1.6},{"r":"CD49d","c":15,"v":1.8},{"r":"CD49d","c":16,"v":1.6},{"r":"CD49d","c":17,"v":2.5},{"r":"CD49d","c":18,"v":2.2},{"r":"CD49d","c":19,"v":1.6},
{"r":"HLA-DR","c":1,"v":2.6},{"r":"HLA-DR","c":2,"v":2.8},{"r":"HLA-DR","c":3,"v":1.6},{"r":"HLA-DR","c":4,"v":1.8},{"r":"HLA-DR","c":5,"v":2.6},{"r":"HLA-DR","c":6,"v":2.7},{"r":"HLA-DR","c":7,"v":2.5},{"r":"HLA-DR","c":8,"v":2.2},{"r":"HLA-DR","c":9,"v":1.9},{"r":"HLA-DR","c":10,"v":1.4},{"r":"HLA-DR","c":11,"v":1.9},{"r":"HLA-DR","c":12,"v":2.4},{"r":"HLA-DR","c":13,"v":1.2},{"r":"HLA-DR","c":14,"v":0.3},{"r":"HLA-DR","c":15,"v":2},{"r":"HLA-DR","c":16,"v":0.9},{"r":"HLA-DR","c":17,"v":2.4},{"r":"HLA-DR","c":18,"v":1.7},{"r":"HLA-DR","c":19,"v":1.1},
{"r":"CCR5","c":1,"v":0.7},{"r":"CCR5","c":2,"v":0.6},{"r":"CCR5","c":3,"v":1.1},{"r":"CCR5","c":4,"v":0.2},{"r":"CCR5","c":5,"v":0.5},{"r":"CCR5","c":6,"v":0.25},{"r":"CCR5","c":7,"v":0.6},{"r":"CCR5","c":8,"v":0.7},{"r":"CCR5","c":9,"v":0.5},{"r":"CCR5","c":10,"v":1.4},{"r":"CCR5","c":12,"v":0.4},{"r":"CCR5","c":13,"v":0.9},{"r":"CCR5","c":14,"v":0.3},{"r":"CCR5","c":16,"v":0.6},{"r":"CCR5","c":17,"v":0.2},{"r":"CCR5","c":19,"v":0.4},
{"r":"CXCR3","c":1,"v":0.5},{"r":"CXCR3","c":2,"v":0.5},{"r":"CXCR3","c":3,"v":0.5},{"r":"CXCR3","c":5,"v":0.7},{"r":"CXCR3","c":6,"v":0.5},{"r":"CXCR3","c":7,"v":0.5},{"r":"CXCR3","c":8,"v":0.5},{"r":"CXCR3","c":9,"v":0.2},{"r":"CXCR3","c":10,"v":0.7},{"r":"CXCR3","c":11,"v":0.2},{"r":"CXCR3","c":15,"v":1.3},{"r":"CXCR3","c":17,"v":0.3},
{"r":"CCR4","c":1,"v":0.2},{"r":"CCR4","c":3,"v":0.6},{"r":"CCR4","c":5,"v":0.25},{"r":"CCR4","c":7,"v":0.5},{"r":"CCR4","c":8,"v":0.8},{"r":"CCR4","c":9,"v":0.3},{"r":"CCR4","c":10,"v":0.4},{"r":"CCR4","c":11,"v":0.2},{"r":"CCR4","c":14,"v":0.5},{"r":"CCR4","c":15,"v":0.5},{"r":"CCR4","c":17,"v":0.2},
{"r":"CD38","c":1,"v":0.4},{"r":"CD38","c":3,"v":0.25},{"r":"CD38","c":7,"v":0.2},{"r":"CD38","c":8,"v":1.1},{"r":"CD38","c":9,"v":0.5},{"r":"CD38","c":10,"v":0.3},{"r":"CD38","c":11,"v":0.3},{"r":"CD38","c":16,"v":0.2},
{"r":"CD5","c":1,"v":0},{"r":"CCR6","c":1,"v":0.15},{"r":"PD-1","c":1,"v":0},{"r":"CD24","c":1,"v":0},{"r":"CD25","c":1,"v":0},{"r":"CD28","c":1,"v":0},{"r":"CD27","c":1,"v":0},
{"r":"CXCR5","c":1,"v":1.5},{"r":"CXCR5","c":2,"v":1.5},{"r":"CXCR5","c":3,"v":1.5},{"r":"CXCR5","c":5,"v":1.5},{"r":"CXCR5","c":6,"v":1.5},{"r":"CXCR5","c":7,"v":0.9},{"r":"CXCR5","c":8,"v":1.3},{"r":"CXCR5","c":9,"v":1.3},{"r":"CXCR5","c":10,"v":1.6},{"r":"CXCR5","c":11,"v":1},{"r":"CXCR5","c":12,"v":0.3},{"r":"CXCR5","c":13,"v":0.6},{"r":"CXCR5","c":14,"v":0.9},{"r":"CXCR5","c":15,"v":0.9},{"r":"CXCR5","c":19,"v":0.9}
],
"ann":[{"c":1,"g":"HDs"},{"c":2,"g":"HDs"},{"c":3,"g":"HDs"},{"c":4,"g":"HDs"},{"c":5,"g":"HDs"},{"c":6,"g":"HDs"},{"c":7,"g":"HDs"},{"c":8,"g":"Good base"},{"c":9,"g":"Good base"},{"c":10,"g":"Good base"},{"c":11,"g":"Good exacerbation"},{"c":12,"g":"Good exacerbation"},{"c":13,"g":"Good exacerbation"},{"c":14,"g":"Poor base"},{"c":15,"g":"Poor base"},{"c":16,"g":"Poor base"},{"c":17,"g":"Poor exacerbation"},{"c":18,"g":"Poor exacerbation"},{"c":19,"g":"Poor exacerbation"}],
"dt":[
{"a":58.9,"b":66,"y":234,"ya":244,"yb":244},{"a":51.9,"b":62.5,"y":229,"ya":244,"yb":234},{"a":80,"b":87.1,"y":233,"ya":244,"yb":244},{"a":73,"b":83.5,"y":228,"ya":244,"yb":233},{"a":108.2,"b":115.3,"y":233,"ya":244,"yb":244},{"a":101.2,"b":111.7,"y":230,"ya":244,"yb":233},{"a":94.1,"b":106.4,"y":224,"ya":244,"yb":230},{"a":78.3,"b":100,"y":223,"ya":228,"yb":224},{"a":57,"b":89,"y":218,"ya":229,"yb":223},{"a":44.8,"b":73,"y":212.5,"ya":244,"yb":218},{"a":136.5,"b":143.5,"y":228,"ya":244,"yb":244},{"a":129.4,"b":140,"y":223,"ya":244,"yb":228},{"a":122.4,"b":134.7,"y":220.7,"ya":244,"yb":223},{"a":58.9,"b":160,"y":207,"ya":212.5,"yb":209},{"a":128.5,"b":192,"y":209,"ya":220.7,"yb":214.5},{"a":159,"b":213.5,"y":214.5,"ya":222.5,"yb":219},
{"a":199.9,"b":207,"y":240.5,"ya":244,"yb":244},{"a":192.9,"b":203.5,"y":236,"ya":244,"yb":240.5},{"a":178.8,"b":185.8,"y":239,"ya":244,"yb":244},{"a":171.7,"b":182.3,"y":234,"ya":244,"yb":239},{"a":177,"b":198,"y":231.5,"ya":234,"yb":236},{"a":164.7,"b":187.5,"y":229,"ya":244,"yb":231.5},{"a":157.6,"b":176,"y":225,"ya":244,"yb":229},{"a":150.6,"b":167,"y":222.5,"ya":244,"yb":225},
{"a":228.1,"b":235.2,"y":231.5,"ya":244,"yb":244},{"a":221.1,"b":231.7,"y":225.7,"ya":244,"yb":231.5},{"a":263.4,"b":270.4,"y":240,"ya":244,"yb":244},{"a":256.3,"b":267,"y":237.5,"ya":244,"yb":240},{"a":249.3,"b":261.6,"y":227,"ya":244,"yb":237.5},{"a":242.2,"b":255.5,"y":225.5,"ya":244,"yb":227},{"a":226.4,"b":249,"y":220.7,"ya":225.7,"yb":225.5},{"a":214,"b":237.7,"y":219,"ya":244,"yb":220.7}
],
"dl":[
{"x":37,"a":263.7,"b":269.4,"xa":41.3,"xb":41.3},{"x":34,"a":266.5,"b":275,"xa":37,"xb":41.3},{"x":30,"a":258.1,"b":270.8,"xa":41.3,"xb":34},{"x":26,"a":252.5,"b":264.5,"xa":41.3,"xb":30},{"x":31,"a":280.7,"b":286.3,"xa":41.3,"xb":41.3},{"x":22,"a":258.5,"b":283.5,"xa":26,"xb":31},{"x":12,"a":246.8,"b":271,"xa":41.3,"xb":22},
{"x":34,"a":303.2,"b":308.9,"xa":41.3,"xb":41.3},{"x":31,"a":297.6,"b":306,"xa":41.3,"xb":34},{"x":28,"a":292,"b":301.8,"xa":41.3,"xb":31},{"x":35,"a":325.8,"b":331.5,"xa":41.3,"xb":41.3},{"x":31,"a":320.2,"b":328.6,"xa":41.3,"xb":35},{"x":27,"a":314.5,"b":324.4,"xa":41.3,"xb":31},{"x":24,"a":319.5,"b":337.1,"xa":27,"xb":41.3},{"x":19,"a":297,"b":328,"xa":28,"xb":24},
{"x":33,"a":342.8,"b":348.4,"xa":41.3,"xb":41.3},{"x":36,"a":365.3,"b":371,"xa":41.3,"xb":41.3},{"x":33,"a":359.7,"b":368,"xa":41.3,"xb":36},{"x":29,"a":354,"b":364,"xa":41.3,"xb":33},{"x":24,"a":345.6,"b":359,"xa":33,"xb":29},{"x":36,"a":382.3,"b":387.9,"xa":41.3,"xb":41.3},{"x":30,"a":376.6,"b":385,"xa":41.3,"xb":36},{"x":20,"a":352.3,"b":381,"xa":24,"xb":30},{"x":14,"a":312.5,"b":366.6,"xa":19,"xb":20},
{"x":33,"a":416.1,"b":421.8,"xa":41.3,"xb":41.3},{"x":27,"a":410.5,"b":419,"xa":41.3,"xb":33},{"x":30,"a":399.2,"b":404.8,"xa":41.3,"xb":41.3},{"x":21,"a":402,"b":415,"xa":30,"xb":27},{"x":11,"a":393.6,"b":408,"xa":41.3,"xb":21},{"x":9,"a":340,"b":401,"xa":14,"xb":11},{"x":5,"a":259,"b":370,"xa":12,"xb":9},
{"x":88.5,"a":595.3,"b":607.4,"xa":95,"xb":95},{"x":87,"a":619.5,"b":631.5,"xa":95,"xb":95},{"x":81.5,"a":625.5,"b":643.6,"xa":87,"xb":95},{"x":90.7,"a":740.1,"b":752.2,"xa":95,"xb":95},{"x":93,"a":679.8,"b":691.9,"xa":95,"xb":95},{"x":92,"a":686,"b":703.9,"xa":93,"xb":95},{"x":91,"a":667.7,"b":695,"xa":95,"xb":92},{"x":90,"a":655.7,"b":681,"xa":95,"xb":91},{"x":87,"a":668,"b":716,"xa":90,"xb":95},{"x":86,"a":692,"b":728.1,"xa":87,"xb":95},{"x":85,"a":710,"b":746,"xa":86,"xb":90.7},{"x":80,"a":634.5,"b":728,"xa":81.5,"xb":85},{"x":35.7,"a":601,"b":681,"xa":88.5,"xb":80},
{"x":380.7,"a":594,"b":606,"xa":393,"xb":393},{"x":380,"a":618,"b":630,"xa":393,"xb":393},{"x":385.7,"a":642,"b":654,"xa":393,"xb":393},{"x":392,"a":726,"b":738,"xa":393,"xb":393},{"x":391.5,"a":714,"b":732,"xa":393,"xb":392},{"x":391,"a":702,"b":723,"xa":393,"xb":391.5},{"x":390.5,"a":690,"b":712,"xa":393,"xb":391},{"x":390,"a":678,"b":701,"xa":393,"xb":390.5},{"x":389,"a":666,"b":690,"xa":393,"xb":390},{"x":382.7,"a":648,"b":678,"xa":385.7,"xb":389},{"x":375.7,"a":624,"b":663,"xa":380,"xb":382.7},{"x":365,"a":643.5,"b":750,"xa":375.7,"xb":393},{"x":333.5,"a":600,"b":697,"xa":380.7,"xb":365}
],
"bars":[{"x":230,"x2":335,"y":20,"y2":20},{"x":474.5,"x2":579,"y":20,"y2":20},{"x":461,"x2":514,"y":210,"y2":210},{"x":536,"x2":590,"y":211,"y2":211},{"x":394,"x2":451,"y":238,"y2":238},{"x":454,"x2":476,"y":238,"y2":238},{"x":481,"x2":503,"y":238,"y2":238},{"x":507,"x2":529,"y":238,"y2":238},{"x":533,"x2":557,"y":238,"y2":238},{"x":162,"x2":213,"y":543,"y2":543},{"x":233,"x2":283,"y":543,"y2":543},{"x":458,"x2":508,"y":543,"y2":543},{"x":525,"x2":576,"y":543,"y2":543},
{"x":44,"x2":40,"y":17,"y2":22},{"x":44,"x2":48,"y":17,"y2":22},{"x":44,"x2":40,"y":137,"y2":132},{"x":44,"x2":48,"y":137,"y2":132},{"x":62,"x2":67,"y":165,"y2":161},{"x":62,"x2":67,"y":165,"y2":169},{"x":664,"x2":659,"y":165,"y2":161},{"x":664,"x2":659,"y":165,"y2":169}],
"dots":[{"x":44,"x2":44,"y":17,"y2":137},{"x":62,"x2":664,"y":165,"y2":165}],
"marks":[{"m":"min","x":331,"y":205},{"m":"mid","x":379.5,"y":205},{"m":"max","x":428,"y":205}],
"head":[{"t":"Good Prognosis","x":285,"y":9},{"t":"Poor Prognosis","x":530,"y":9},{"t":"HDs","x":103,"y":30},{"t":"base","x":222.5,"y":29},{"t":"exacerbation","x":348,"y":27},{"t":"base","x":473.6,"y":27},{"t":"exacerbation","x":591.5,"y":25},{"t":"tsne_1","x":379,"y":172},{"t":"Good Prognosis","x":486,"y":199},{"t":"Poor Prognosis","x":566,"y":200},{"t":"Good Prognosis","x":185,"y":533},{"t":"Poor Prognosis","x":270,"y":533},{"t":"cluster_2","x":65,"y":585},{"t":"Good Prognosis","x":483,"y":535},{"t":"Poor prognosis","x":562,"y":535},{"t":"cluster_25","x":371,"y":585}],
"tag":[{"t":"(A)","x":9,"y":9},{"t":"(B)","x":10,"y":177},{"t":"(C)","x":322,"y":175},{"t":"(D)","x":10,"y":515}],
"slant":[{"t":"HDs","x":423,"y":229},{"t":"base","x":464,"y":230},{"t":"exacerbation","x":509,"y":224},{"t":"base","x":521,"y":232},{"t":"exacerbation","x":568,"y":225},{"t":"base","x":177,"y":567},{"t":"exacerbation","x":222,"y":558},{"t":"base","x":237,"y":568},{"t":"exacerbation","x":281,"y":560},{"t":"base","x":481,"y":567},{"t":"exacerbation","x":530,"y":560},{"t":"base","x":543,"y":565},{"t":"exacerbation","x":585,"y":560}],
"slant2":[{"t":"HDs","x":124,"y":565},{"t":"HDs","x":443,"y":558}],
"vert":[{"t":"tsne_2","x":30,"y":70}]
},
"layer":[
{"data":{"name":"tsne"},"mark":{"type":"point","filled":true,"strokeWidth":0,"opacity":1},"encoding":{"x":{"field":"x","type":"quantitative","scale":{"domain":[0,667],"range":[0,667],"nice":false},"axis":null},"y":{"field":"y","type":"quantitative","scale":{"domain":[0,760],"range":[0,760],"nice":false},"axis":null},"size":{"field":"n","type":"quantitative","scale":{"type":"pow","exponent":0.9,"domain":[0,1000],"range":[0,1300]},"legend":null},"color":{"field":"k","type":"nominal","legend":null,"scale":{"domain":["lg","nv","lm","mt","pw","tl","cr","az","or","rd","sk","bl","cy","lv","ol","in","gd","mr","vi","pk","sl","br","gr","dg","yl","wh"],"range":["#ccf593","#0d0d80","#aef53c","#86f58a","#8585f0","#1f8080","#c0106a","#1a85f0","#b37ce6","#ff0000","#74b0f7","#0010e8","#20f5f8","#a585f0","#7a6600","#2a0f85","#f2d96e","#650a3c","#5200e0","#f09ab5","#f58080","#6b3010","#10f010","#4f7a12","#f0e020","#ffffff"]}}}},
{"data":{"name":"b"},"transform":[{"impute":"v","key":"c","groupby":["r"],"value":0.2}],"mark":{"type":"rect","stroke":"#9a9a9a","strokeWidth":0.7},"encoding":{"x":{"field":"c","type":"ordinal","scale":{"domain":["CD8","CCR6","CXCR3","CCR4","CD7","CD5","CD3","CD45RO","CD27","CD28","CD4","CD11b","CD9","CD14","CD11c","IgA","CCR5","CD25","CD161","CD127","CXCR5","CD38","CD103","CD24","CD16","CD45RA","CD49d","HLA-DR","IgM","IgD","CD19","CD20","CD22"],"range":[41.3,273.8],"paddingInner":0,"paddingOuter":0},"axis":{"orient":"bottom","offset":-335.5,"labelAngle":90,"labelAlign":"left","labelBaseline":"middle","labelFontSize":6,"labelPadding":1.5,"labelOverlap":false}},"y":{"field":"r","type":"ordinal","scale":{"domain":[6,2,16,18,5,25,21,26,14,3,11,17,1,23,10,7,12,19,22,31,32,13,20,8,9,27,28,30,15,24,4,29],"range":[244,424.5],"paddingInner":0,"paddingOuter":0},"axis":{"orient":"right","offset":-393,"labelFontSize":6.3,"labelPadding":1.5,"labelOverlap":false}},"color":{"field":"v","type":"quantitative","scale":{"domain":[0,7],"interpolate":"rgb","range":["#4575b4","#91bfdb","#e0f3f8","#ffffbf","#fee090","#fc8d59","#d73027"]},"legend":{"orient":"none","legendX":285,"legendY":243,"title":null,"gradientLength":106,"gradientThickness":8,"values":[0,1,2,3,4,5,6,7],"labelFontSize":6,"labelOverlap":false}}}},
{"data":{"name":"c"},"transform":[{"impute":"v","key":"c","groupby":["r"],"value":0.03}],"mark":{"type":"rect","strokeWidth":0.4},"encoding":{"x":{"field":"c","type":"ordinal","scale":{"domain":[1,2,3,4,5,6,7,8,9,10,11,12,13,14,15,16,17,18,19],"range":[392.3,558.3],"paddingInner":0,"paddingOuter":0},"axis":null},"y":{"field":"r","type":"ordinal","scale":{"domain":[1,2,3,4,5,6,7,8,9,10,11,12,13,14,15,16,17,18,19,20,21,22,23,24,25,26,27,28,29,30,31,32],"range":[241.7,522.7],"paddingInner":0,"paddingOuter":0},"axis":{"orient":"right","offset":-108.7,"labelFontSize":6.2,"labelPadding":1,"labelOverlap":false,"labelExpr":"'cluster'+datum.value"}},"stroke":{"field":"v","type":"quantitative","legend":null,"scale":{"domain":[0,1],"interpolate":"rgb","range":["#0000ff","#ffffff","#ff0000"]}},"color":{"field":"v","type":"quantitative","legend":null,"scale":{"domain":[0,1],"interpolate":"rgb","range":["#0000ff","#ffffff","#ff0000"]}}}},
{"data":{"values":[{"v":0},{"v":1}]},"mark":{"type":"rect","fillOpacity":0},"encoding":{"color":{"field":"v","type":"quantitative","scale":{"domain":[0,1],"interpolate":"rgb","range":["#0000ff","#ffffff","#ff0000"]},"legend":{"orient":"none","legendX":331,"legendY":182,"direction":"horizontal","title":"Cluster Abundance","titleFontSize":11.5,"titleFontWeight":"bold","titleAnchor":"middle","titlePadding":1,"gradientLength":97,"gradientThickness":7,"values":[0,1],"labelFontSize":11,"labelFontWeight":"bold","labelOffset":6,"labelAlign":"center","labelOverlap":false,"labelExpr":"datum.value==0?'raw min':'raw max'"}}}},
{"data":{"name":"d1"},"transform":[{"impute":"v","key":"c","groupby":["r"],"value":0}],"mark":{"type":"rect","strokeWidth":0.4},"encoding":{"x":{"field":"c","type":"ordinal","scale":{"domain":[1,2,3,4,5,6,7,8,9,10,11,12,13,14,15,16,17,18,19],"range":[97.7,276],"paddingInner":0,"paddingOuter":0},"axis":null},"y":{"field":"r","type":"ordinal","scale":{"domain":["HLA-DR","CD49d","CCR5","CD38","CXCR3","CCR4","CD28","PD-1","CXCR5","CD25","CD5","CCR6","CD27","CD24"],"range":[589.3,758.3],"paddingInner":0,"paddingOuter":0},"axis":{"orient":"right","offset":-391,"labelFontSize":6.5,"labelPadding":2,"labelOverlap":false}},"stroke":{"field":"v","type":"quantitative","legend":null,"scale":{"domain":[0,3],"interpolate":"rgb","range":["#000000","#ffff00"]}},"color":{"field":"v","type":"quantitative","legend":null,"scale":{"domain":[0,3],"interpolate":"rgb","range":["#000000","#ffff00"]}}}},
{"data":{"values":[{"v":0},{"v":3}]},"mark":{"type":"rect","fillOpacity":0},"encoding":{"color":{"field":"v","type":"quantitative","scale":{"domain":[0,3],"interpolate":"rgb","range":["#000000","#ffff00"]},"legend":{"orient":"none","legendX":45,"legendY":543,"direction":"horizontal","title":"Arcsinh","titleFontSize":4,"titleFont":"Liberation Sans","titleFontWeight":"normal","titleAnchor":"middle","titlePadding":1,"gradientLength":24,"gradientThickness":14,"values":[0,1,2,3],"labelFontSize":3.5,"labelFont":"Liberation Sans","labelFontWeight":"normal","labelOverlap":false}}}},
{"data":{"name":"d2"},"transform":[{"impute":"v","key":"c","groupby":["r"],"value":0}],"mark":{"type":"rect","strokeWidth":0.4},"encoding":{"x":{"field":"c","type":"ordinal","scale":{"domain":[1,2,3,4,5,6,7,8,9,10,11,12,13,14,15,16,17,18,19],"range":[395,572.5],"paddingInner":0,"paddingOuter":0},"axis":null},"y":{"field":"r","type":"ordinal","scale":{"domain":["CD49d","HLA-DR","CCR5","CXCR3","CCR4","CD38","CD5","CCR6","PD-1","CD24","CD25","CD28","CD27","CXCR5"],"range":[588,756],"paddingInner":0,"paddingOuter":0},"axis":{"orient":"right","offset":-94.5,"labelFontSize":6.5,"labelPadding":5,"labelOverlap":false}},"stroke":{"field":"v","type":"quantitative","legend":null,"scale":{"domain":[0,3],"interpolate":"rgb","range":["#000000","#ffff00"]}},"color":{"field":"v","type":"quantitative","legend":null,"scale":{"domain":[0,3],"interpolate":"rgb","range":["#000000","#ffff00"]}}}},
{"data":{"values":[{"v":0},{"v":3}]},"mark":{"type":"rect","fillOpacity":0},"encoding":{"color":{"field":"v","type":"quantitative","scale":{"domain":[0,3],"interpolate":"rgb","range":["#000000","#ffff00"]},"legend":{"orient":"none","legendX":350,"legendY":545,"direction":"horizontal","title":"Arcsinh","titleFontSize":4,"titleFont":"Liberation Sans","titleFontWeight":"normal","titleAnchor":"middle","titlePadding":1,"gradientLength":24,"gradientThickness":13,"values":[0,1,2,3],"labelFontSize":3.5,"labelFont":"Liberation Sans","labelFontWeight":"normal","labelOverlap":false}}}},
{"data":{"name":"ann"},"transform":[{"calculate":"'annotation'","as":"track"}],"mark":{"type":"rect","strokeWidth":0.4},"encoding":{"x":{"field":"c","type":"ordinal","scale":{"domain":[1,2,3,4,5,6,7,8,9,10,11,12,13,14,15,16,17,18,19],"range":[97.7,276],"paddingInner":0,"paddingOuter":0},"axis":null},"y":{"field":"track","type":"nominal","scale":{"range":[577,587],"paddingInner":0,"paddingOuter":0},"axis":null},"color":{"field":"g","type":"nominal","legend":null,"scale":{"domain":["HDs","Good base","Good exacerbation","Poor base","Poor exacerbation"],"range":["#e41a1c","#377eb8","#4daf4a","#984ea3","#ff7f00"]}},"stroke":{"field":"g","type":"nominal","legend":null,"scale":{"domain":["HDs","Good base","Good exacerbation","Poor base","Poor exacerbation"],"range":["#e41a1c","#377eb8","#4daf4a","#984ea3","#ff7f00"]}}}},
{"data":{"name":"ann"},"transform":[{"calculate":"'annotation'","as":"track"}],"mark":{"type":"rect","strokeWidth":0.4},"encoding":{"x":{"field":"c","type":"ordinal","scale":{"domain":[1,2,3,4,5,6,7,8,9,10,11,12,13,14,15,16,17,18,19],"range":[395,572.5],"paddingInner":0,"paddingOuter":0},"axis":null},"y":{"field":"track","type":"nominal","scale":{"range":[576,586],"paddingInner":0,"paddingOuter":0},"axis":null},"color":{"field":"g","type":"nominal","legend":null,"scale":{"domain":["HDs","Good base","Good exacerbation","Poor base","Poor exacerbation"],"range":["#e41a1c","#377eb8","#4daf4a","#984ea3","#ff7f00"]}},"stroke":{"field":"g","type":"nominal","legend":null,"scale":{"domain":["HDs","Good base","Good exacerbation","Poor base","Poor exacerbation"],"range":["#e41a1c","#377eb8","#4daf4a","#984ea3","#ff7f00"]}}}},
{"data":{"name":"dt"},"mark":{"type":"rule","color":"#555","strokeWidth":0.9},"encoding":{"x":{"field":"a","type":"quantitative","scale":{"domain":[0,667],"range":[0,667],"nice":false},"axis":null},"x2":{"field":"b"},"y":{"field":"y","type":"quantitative","scale":{"domain":[0,760],"range":[0,760],"nice":false},"axis":null}}},
{"data":{"name":"dt"},"mark":{"type":"rule","color":"#555","strokeWidth":0.9},"encoding":{"x":{"field":"a","type":"quantitative","scale":{"domain":[0,667],"range":[0,667],"nice":false},"axis":null},"y":{"field":"y","type":"quantitative","scale":{"domain":[0,760],"range":[0,760],"nice":false},"axis":null},"y2":{"field":"ya"}}},
{"data":{"name":"dt"},"mark":{"type":"rule","color":"#555","strokeWidth":0.9},"encoding":{"x":{"field":"b","type":"quantitative","scale":{"domain":[0,667],"range":[0,667],"nice":false},"axis":null},"y":{"field":"y","type":"quantitative","scale":{"domain":[0,760],"range":[0,760],"nice":false},"axis":null},"y2":{"field":"yb"}}},
{"data":{"name":"dl"},"mark":{"type":"rule","color":"#666","strokeWidth":0.9},"encoding":{"x":{"field":"x","type":"quantitative","scale":{"domain":[0,667],"range":[0,667],"nice":false},"axis":null},"y":{"field":"a","type":"quantitative","scale":{"domain":[0,760],"range":[0,760],"nice":false},"axis":null},"y2":{"field":"b"}}},
{"data":{"name":"dl"},"mark":{"type":"rule","color":"#666","strokeWidth":0.9},"encoding":{"x":{"field":"x","type":"quantitative","scale":{"domain":[0,667],"range":[0,667],"nice":false},"axis":null},"x2":{"field":"xa"},"y":{"field":"a","type":"quantitative","scale":{"domain":[0,760],"range":[0,760],"nice":false},"axis":null}}},
{"data":{"name":"dl"},"mark":{"type":"rule","color":"#666","strokeWidth":0.9},"encoding":{"x":{"field":"x","type":"quantitative","scale":{"domain":[0,667],"range":[0,667],"nice":false},"axis":null},"x2":{"field":"xb"},"y":{"field":"b","type":"quantitative","scale":{"domain":[0,760],"range":[0,760],"nice":false},"axis":null}}},
{"data":{"name":"bars"},"mark":{"type":"rule","color":"black","strokeWidth":1.5},"encoding":{"x":{"field":"x","type":"quantitative","scale":{"domain":[0,667],"range":[0,667],"nice":false},"axis":null},"x2":{"field":"x2"},"y":{"field":"y","type":"quantitative","scale":{"domain":[0,760],"range":[0,760],"nice":false},"axis":null},"y2":{"field":"y2"}}},
{"data":{"name":"dots"},"mark":{"type":"rule","color":"black","strokeWidth":2,"strokeDash":[2,1.5]},"encoding":{"x":{"field":"x","type":"quantitative","scale":{"domain":[0,667],"range":[0,667],"nice":false},"axis":null},"x2":{"field":"x2"},"y":{"field":"y","type":"quantitative","scale":{"domain":[0,760],"range":[0,760],"nice":false},"axis":null},"y2":{"field":"y2"}}},
{"data":{"name":"marks"},"mark":{"type":"point","shape":"square","filled":true,"size":12,"strokeWidth":0.6},"encoding":{"x":{"field":"x","type":"quantitative","scale":{"domain":[0,667],"range":[0,667],"nice":false},"axis":null},"y":{"field":"y","type":"quantitative","scale":{"domain":[0,760],"range":[0,760],"nice":false},"axis":null},"color":{"field":"m","type":"nominal","legend":null,"scale":{"domain":["min","mid","max"],"range":["#0000ff","#dddddd","#ff0000"]}}}},
{"data":{"name":"head"},"mark":{"type":"text","fontSize":11.5,"color":"black"},"encoding":{"text":{"field":"t"},"x":{"field":"x","type":"quantitative","scale":{"domain":[0,667],"range":[0,667],"nice":false},"axis":null},"y":{"field":"y","type":"quantitative","scale":{"domain":[0,760],"range":[0,760],"nice":false},"axis":null}}},
{"data":{"name":"tag"},"mark":{"type":"text","fontSize":12,"font":"Liberation Sans","fontWeight":"normal","color":"black"},"encoding":{"text":{"field":"t"},"x":{"field":"x","type":"quantitative","scale":{"domain":[0,667],"range":[0,667],"nice":false},"axis":null},"y":{"field":"y","type":"quantitative","scale":{"domain":[0,760],"range":[0,760],"nice":false},"axis":null}}},
{"data":{"name":"slant"},"mark":{"type":"text","fontSize":11.5,"angle":-13,"color":"black"},"encoding":{"text":{"field":"t"},"x":{"field":"x","type":"quantitative","scale":{"domain":[0,667],"range":[0,667],"nice":false},"axis":null},"y":{"field":"y","type":"quantitative","scale":{"domain":[0,760],"range":[0,760],"nice":false},"axis":null}}},
{"data":{"name":"slant2"},"mark":{"type":"text","fontSize":11.5,"angle":-28,"color":"black"},"encoding":{"text":{"field":"t"},"x":{"field":"x","type":"quantitative","scale":{"domain":[0,667],"range":[0,667],"nice":false},"axis":null},"y":{"field":"y","type":"quantitative","scale":{"domain":[0,760],"range":[0,760],"nice":false},"axis":null}}},
{"data":{"name":"vert"},"mark":{"type":"text","fontSize":11.5,"angle":-90,"color":"black"},"encoding":{"text":{"field":"t"},"x":{"field":"x","type":"quantitative","scale":{"domain":[0,667],"range":[0,667],"nice":false},"axis":null},"y":{"field":"y","type":"quantitative","scale":{"domain":[0,760],"range":[0,760],"nice":false},"axis":null}}}
],
"resolve":{"scale":{"x":"independent","y":"independent","color":"independent","stroke":"independent","size":"independent"}}
}
